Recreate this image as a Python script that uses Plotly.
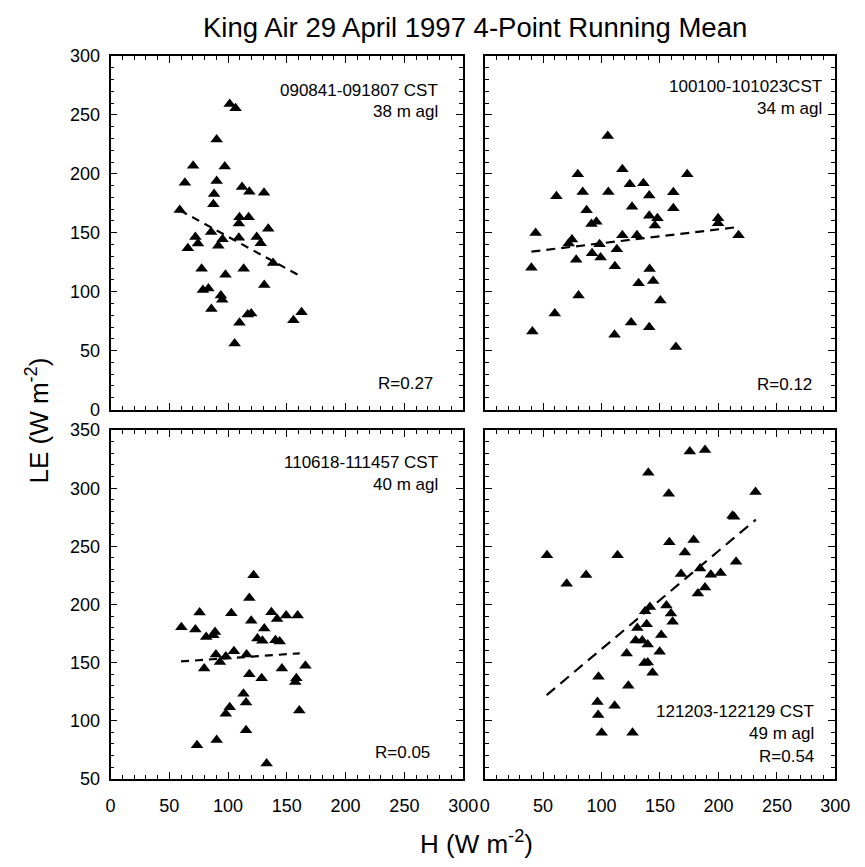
import plotly.graph_objects as go

W, H = 865, 867

# ---------------- data ----------------
# Panel 1: 090841-091807 CST, 38 m agl
p1_h = [101.4, 106.4, 90.3, 70.3, 97.2, 63.3, 90.3, 111.9, 118.1, 130.6, 88.1, 87.5,
        58.9, 109.7, 117.5, 109.2, 134.2, 85.6, 72.2, 95.3, 109.2, 124.4, 74.4, 65.8,
        91.7, 127.8, 138.3, 77.5, 113.3, 97.8, 78.6, 83.3, 130.8, 93.9, 95.0, 85.8,
        116.7, 119.7, 109.7, 155.6, 162.5, 105.6]
p1_le = [259.2, 255.6, 229.2, 206.9, 206.1, 192.5, 193.9, 188.9, 184.7, 183.9, 182.8, 174.2,
         169.4, 163.1, 163.1, 157.8, 153.3, 150.6, 146.4, 144.4, 145.8, 146.4, 140.8, 136.9,
         138.9, 141.1, 124.4, 119.4, 119.4, 114.4, 101.4, 102.8, 105.6, 96.7, 93.1, 85.3,
         80.6, 81.4, 73.6, 75.8, 82.5, 56.1]
p1_fit_h = [59, 160]
p1_fit_le = [169, 114]

# Panel 2: 100100-101023CST, 34 m agl
p2_h = [105.3, 117.8, 173.3, 79.7, 124.2, 135.8, 83.9, 105.8, 61.4, 140.8, 161.4, 126.1,
        161.4, 87.2, 140.8, 147.8, 95.6, 91.4, 145.6, 199.7, 199.7, 43.6, 217.2, 117.8,
        130.3, 74.7, 71.9, 98.3, 113.1, 91.9, 99.2, 78.3, 40.0, 111.4, 141.1, 131.7,
        144.2, 80.3, 150.3, 60.0, 125.3, 140.8, 40.8, 111.1, 163.6]
p2_le = [232.0, 203.9, 199.7, 199.7, 191.2, 192.0, 184.5, 184.5, 180.9, 181.5, 184.3, 172.1,
         170.7, 169.1, 164.4, 162.2, 159.4, 157.5, 156.1, 162.2, 158.0, 149.7, 147.8, 147.8,
         147.8, 144.2, 140.9, 140.3, 135.9, 132.6, 129.0, 127.1, 120.2, 121.5, 119.3, 107.2,
         109.1, 96.7, 92.5, 81.5, 73.8, 69.9, 66.3, 63.5, 53.0]
p2_fit_h = [40, 218]
p2_fit_le = [134, 155]

# Panel 3: 110618-111457 CST, 40 m agl
p3_h = [121.7, 118.1, 75.8, 102.8, 136.9, 149.4, 159.2, 141.7, 119.7, 60.3, 72.2, 130.8,
        88.9, 81.4, 87.5, 125.0, 129.2, 140.3, 143.9, 105.0, 89.7, 98.1, 93.1, 115.8,
        79.7, 118.1, 128.6, 145.8, 165.8, 158.1, 157.2, 113.1, 115.3, 101.4, 98.1, 160.6,
        115.3, 90.3, 73.6, 132.8]
p3_le = [225.1, 205.6, 193.0, 192.5, 193.3, 190.5, 190.5, 187.4, 186.0, 180.4, 178.5, 179.3,
         176.3, 172.1, 173.5, 170.7, 168.7, 169.3, 168.2, 159.8, 157.0, 155.3, 150.6, 157.0,
         145.0, 140.0, 136.6, 145.0, 147.2, 136.6, 133.2, 123.2, 115.6, 111.5, 105.9, 108.7,
         91.9, 83.5, 78.8, 63.1]
p3_fit_h = [60, 161]
p3_fit_le = [151, 158]

# Panel 4: 121203-122129 CST, 49 m agl
p4_h = [175.5, 188.5, 140.0, 157.5, 231.7, 212.0, 213.4, 158.0, 178.8, 53.3, 113.7, 171.3,
        215.1, 184.3, 86.8, 168.0, 193.5, 201.8, 70.2, 188.5, 182.4, 155.5, 141.4, 137.3,
        159.4, 160.8, 138.6, 130.6, 151.1, 129.2, 134.8, 139.5, 149.7, 121.5, 136.7, 139.5,
        143.6, 97.4, 122.9, 96.5, 111.2, 97.1, 100.1, 126.5]
p4_le = [331.5, 332.9, 313.4, 295.3, 296.7, 276.3, 275.5, 253.5, 255.4, 242.3, 242.3, 244.8,
         236.8, 230.9, 225.3, 226.2, 225.6, 227.0, 217.8, 214.5, 209.5, 199.2, 197.8, 194.2,
         192.2, 185.2, 183.0, 179.7, 173.8, 169.1, 169.1, 165.5, 159.3, 157.9, 149.6, 150.1,
         141.2, 137.9, 130.1, 116.2, 112.8, 105.0, 89.7, 89.7]
p4_fit_h = [53, 232]
p4_fit_le = [122, 273]

x_range = [0, 300]
x_ticks = [0, 50, 100, 150, 200, 250, 300]
y_range_top = [0, 300]
y_ticks_top = [0, 50, 100, 150, 200, 250, 300]
y_range_bot = [50, 350]
y_ticks_bot = [50, 100, 150, 200, 250, 300, 350]

labels = [
    ["090841-091807 CST", "38 m agl", "R=0.27"],
    ["100100-101023CST", "34 m agl", "R=0.12"],
    ["110618-111457 CST", "40 m agl", "R=0.05"],
    ["121203-122129 CST", "49 m agl", "R=0.54"],
]

title_text = "King Air 29 April 1997 4-Point Running Mean"
x_title = "H (W m<sup>-2</sup>)"
y_title = "LE (W m<sup>-2</sup>)"

# ---------------- layout geometry (pixels) ----------------
FONT = "Liberation Sans, Arial, Helvetica, sans-serif"
colx = [(108, 469), (491, 850)]
rowy = [(47, 409), (430, 787)]


def fx(px):
    return px / W


def fy(py):
    return 1 - py / H


fig = go.Figure()

panels = [
    (p1_h, p1_le, p1_fit_h, p1_fit_le),
    (p2_h, p2_le, p2_fit_h, p2_fit_le),
    (p3_h, p3_le, p3_fit_h, p3_fit_le),
    (p4_h, p4_le, p4_fit_h, p4_fit_le),
]
dashes = ["8px,6px", "9px,6px", "8px,6px", "11px,7px"]

for i, (hx, le, fh, fl) in enumerate(panels):
    sfx = "" if i == 0 else str(i + 1)
    fig.add_trace(go.Scatter(x=fh, y=fl, mode="lines", xaxis="x" + sfx, yaxis="y" + sfx,
                             line=dict(color="black", width=2.2, dash=dashes[i]),
                             showlegend=False, hoverinfo="skip"))
    fig.add_trace(go.Scatter(x=hx, y=le, mode="markers", xaxis="x" + sfx, yaxis="y" + sfx,
                             marker=dict(symbol="triangle-up", size=11, color="black",
                                         line=dict(width=0)),
                             showlegend=False))

axis_common = dict(showline=True, linecolor="black", linewidth=1.8, mirror="ticks",
                   ticks="inside", ticklen=7, tickwidth=1.4, tickcolor="black",
                   showgrid=False, zeroline=False, fixedrange=True,
                   tickfont=dict(family=FONT, size=18, color="black"),
                   minor=dict(ticks="inside", ticklen=4, tickwidth=1.2, tickcolor="black",
                              dtick=10, showgrid=False))

layout = dict(width=W, height=H, margin=dict(l=0, r=0, t=0, b=0),
              paper_bgcolor="white", plot_bgcolor="white", showlegend=False,
              font=dict(family=FONT, color="black"))

for i in range(4):
    r, c = divmod(i, 2)
    sfx = "" if i == 0 else str(i + 1)
    x0, x1 = colx[c]
    y0, y1 = rowy[r]
    xa = dict(axis_common)
    xa.update(domain=[fx(x0), fx(x1)], range=x_range, tickvals=x_ticks,
              anchor="y" + sfx, showticklabels=(r == 1), ticklabelstandoff=10)
    ya = dict(axis_common)
    ya.update(domain=[fy(y1), fy(y0)],
              range=y_range_top if r == 0 else y_range_bot,
              tickvals=y_ticks_top if r == 0 else y_ticks_bot,
              anchor="x" + sfx, showticklabels=(c == 0), ticklabelstandoff=5)
    layout["xaxis" + sfx] = xa
    layout["yaxis" + sfx] = ya

fig.update_layout(**layout)

# panel annotations: (right x, y of each line)
ann_pos = [
    [(445, 82), (445, 104), (440, 382)],
    [(838, 78), (838, 101), (828, 383)],
    [(445, 463), (445, 486), (437, 760)],
    [(830, 718), (830, 741), (830, 764)],
]
annotations = []
for i in range(4):
    for txt, (px, py) in zip(labels[i], ann_pos[i]):
        annotations.append(dict(text=txt, x=fx(px), y=fy(py), xref="paper", yref="paper",
                                xanchor="right", yanchor="middle", showarrow=False,
                                font=dict(family=FONT, size=17, color="black")))

annotations.append(dict(text=title_text, x=fx(481), y=fy(18), xref="paper", yref="paper",
                        xanchor="center", yanchor="middle", showarrow=False,
                        font=dict(family=FONT, size=27.5, color="black")))
annotations.append(dict(text=x_title, x=fx(483), y=fy(852), xref="paper", yref="paper",
                        xanchor="center", yanchor="middle", showarrow=False,
                        font=dict(family=FONT, size=26, color="black")))
annotations.append(dict(text=y_title, x=fx(33), y=fy(420), xref="paper", yref="paper",
                        xanchor="center", yanchor="middle", showarrow=False, textangle=-90,
                        font=dict(family=FONT, size=26, color="black")))

fig.update_layout(annotations=annotations)

fig.write_html("out.html", config={"displayModeBar": False},
               post_script="document.body.style.margin='0';")
